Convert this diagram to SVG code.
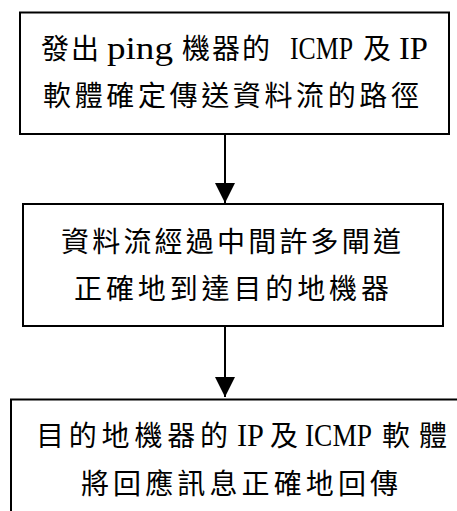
<svg xmlns="http://www.w3.org/2000/svg" width="457" height="511" viewBox="0 0 457 511">
<style>
.box{fill:#fff;stroke:#000;stroke-width:2}
.t{font-family:"Liberation Serif","Noto Sans CJK TC","Noto Sans CJK SC",serif;font-size:28px;fill:#000}
.lat{font-size:31px}
.ln{stroke:#000;stroke-width:2;fill:none}
</style>
<defs>
<marker id="ah" markerUnits="userSpaceOnUse" markerWidth="20" markerHeight="20" refX="20" refY="10" orient="auto" viewBox="0 0 20 20">
<path d="M0,0 L20,10 L0,20 Z" fill="#000"/>
</marker>
</defs>
<rect width="457" height="511" fill="#fff"/>
<g id="connectors">
<line class="ln" x1="225" y1="134" x2="225" y2="203" marker-end="url(#ah)"/>
<line class="ln" x1="225" y1="326" x2="225" y2="397" marker-end="url(#ah)"/>
</g>
<g id="node1">
<rect class="box" x="20" y="12.5" width="429" height="121.5"/>
<text class="t" x="41" y="59" textLength="58" lengthAdjust="spacing">發出</text>
<text class="t lat" x="107" y="59" textLength="66" lengthAdjust="spacingAndGlyphs">ping</text>
<text class="t" x="182" y="59" textLength="88" lengthAdjust="spacing">機器的</text>
<text class="t lat" x="290" y="59" textLength="63" lengthAdjust="spacingAndGlyphs">ICMP</text>
<text class="t" x="363" y="59">及</text>
<text class="t lat" x="399" y="59" textLength="29" lengthAdjust="spacingAndGlyphs">IP</text>
<text class="t" x="43" y="106" textLength="376" lengthAdjust="spacing">軟體確定傳送資料流的路徑</text>
</g>
<g id="node2">
<rect class="box" x="23" y="204" width="420" height="122"/>
<text class="t" x="61" y="252" textLength="340" lengthAdjust="spacing">資料流經過中間許多閘道</text>
<text class="t" x="74" y="299" textLength="315" lengthAdjust="spacing">正確地到達目的地機器</text>
</g>
<g id="node3">
<rect class="box" x="11" y="399.5" width="470" height="140"/>
<text class="t" x="36" y="446" textLength="192" lengthAdjust="spacing">目的地機器的</text>
<text class="t lat" x="237" y="446" textLength="27" lengthAdjust="spacingAndGlyphs">IP</text>
<text class="t" x="270" y="446">及</text>
<text class="t lat" x="305" y="446" textLength="67" lengthAdjust="spacingAndGlyphs">ICMP</text>
<text class="t" x="382" y="446" textLength="65" lengthAdjust="spacing">軟體</text>
<text class="t" x="81" y="494" textLength="317" lengthAdjust="spacing">將回應訊息正確地回傳</text>
</g>
</svg>
